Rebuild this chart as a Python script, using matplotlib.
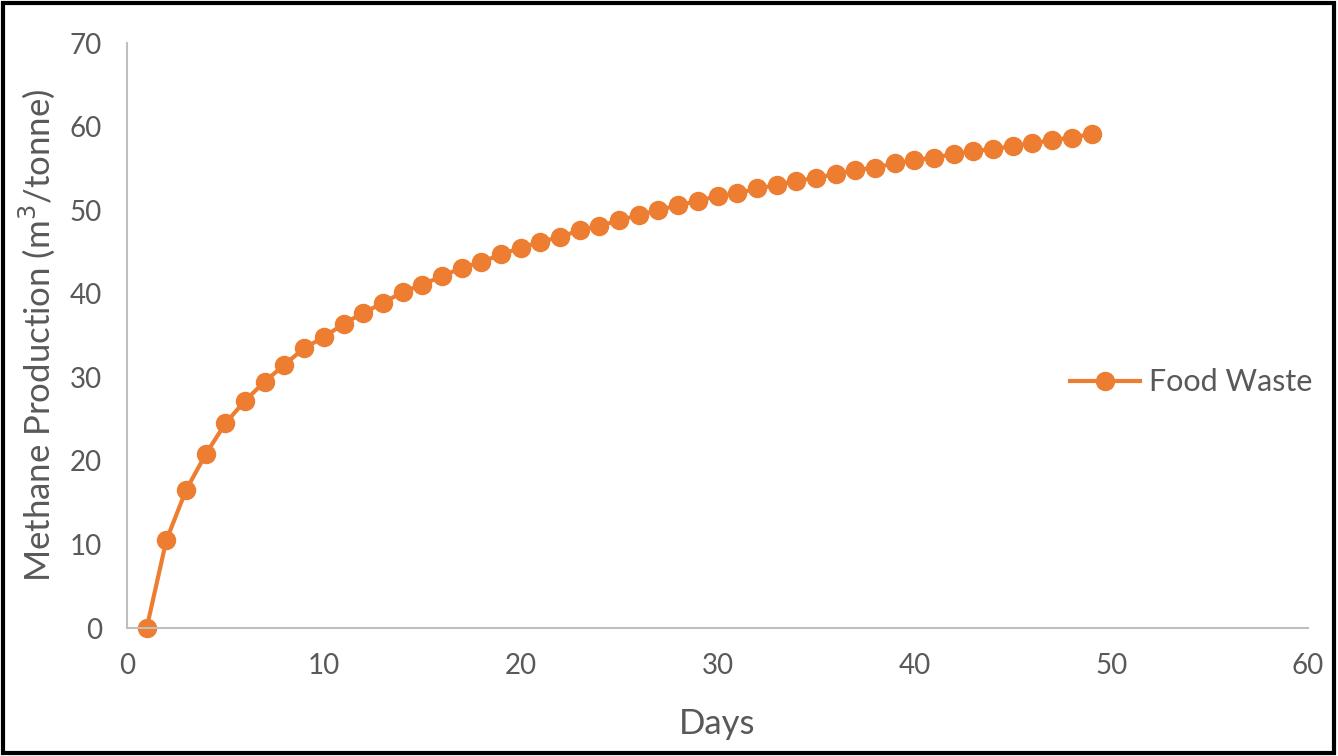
import matplotlib.pyplot as plt
from matplotlib.patches import Rectangle

plt.rcParams['font.family'] = ['Lato', 'DejaVu Sans']

# methane yield
days = list(range(1, 50))
methane = [0.0, 10.5, 16.5, 20.8, 24.5, 27.2, 29.5, 31.5, 33.5, 34.8,
           36.4, 37.7, 38.9, 40.2, 41.1, 42.1, 43.1, 43.8, 44.7, 45.5,
           46.2, 46.8, 47.6, 48.1, 48.8, 49.4, 50.0, 50.6, 51.1, 51.7,
           52.0, 52.6, 53.0, 53.5, 53.9, 54.3, 54.8, 55.1, 55.6, 56.0,
           56.3, 56.7, 57.1, 57.3, 57.7, 58.0, 58.4, 58.7, 59.1]
series_name = "Food Waste"
x_ticks = [0, 10, 20, 30, 40, 50, 60]
y_ticks = [0, 10, 20, 30, 40, 50, 60, 70]

orange = "#ED7D31"
grey = "#595959"

fig = plt.figure(figsize=(13.38, 7.56), dpi=100)
ax = fig.add_axes([0.0949, 0.1693, 0.8827, 0.7737])

ax.plot(days, methane, color=orange, linewidth=3, marker="o",
        markersize=13, label=series_name, clip_on=False)

ax.set_xlim(0, 60)
ax.set_ylim(0, 70)
ax.set_xticks(x_ticks)
ax.set_yticks(y_ticks)
ax.tick_params(length=0, labelsize=20, labelcolor=grey, pad=18)

for side in ["top", "right"]:
    ax.spines[side].set_visible(False)
for side in ["left", "bottom"]:
    ax.spines[side].set_color("#BFBFBF")
    ax.spines[side].set_linewidth(1.5)

ax.set_xlabel("Days", fontsize=25, color=grey, labelpad=21)
ax.set_ylabel("Methane Production (m$^3$/tonne)", fontsize=25, color=grey,
              labelpad=9)

ax.legend(loc="center left", bbox_to_anchor=(0.775, 0.42), frameon=False,
          fontsize=22, labelcolor=grey, handlelength=2.3, handletextpad=0.3)

# black frame around the whole picture
fig.patches.append(Rectangle((0.002, 0.004), 0.995, 0.992,
                             transform=fig.transFigure, fill=False,
                             edgecolor="black", linewidth=3))

fig.savefig("out.png", dpi=100)
